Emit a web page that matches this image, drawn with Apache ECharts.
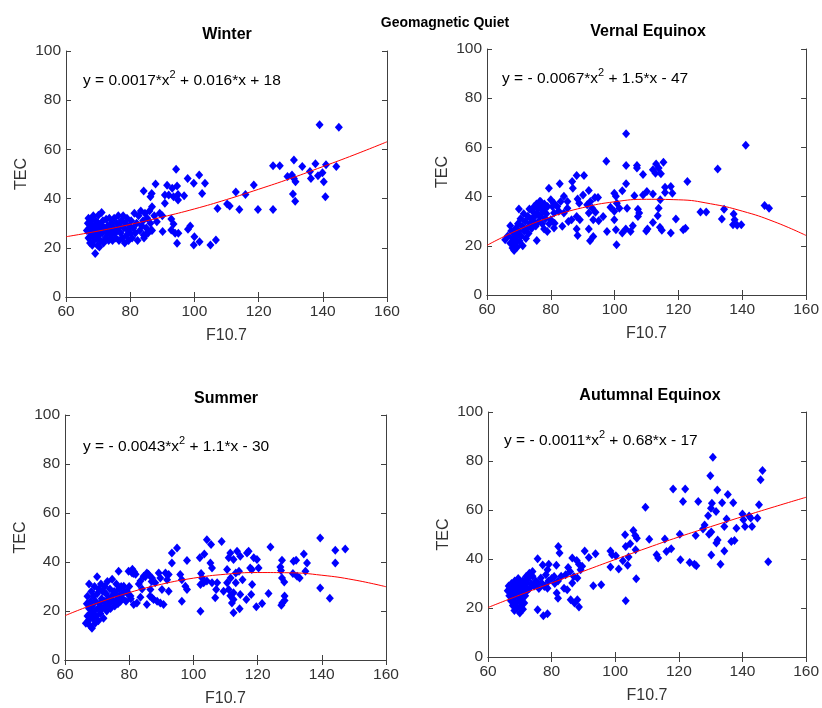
<!DOCTYPE html>
<html><head><meta charset="utf-8">
<script src="https://cdn.jsdelivr.net/npm/echarts@6/dist/echarts.min.js"></script>
<style>html,body{margin:0;padding:0;background:#fff}#c{width:822px;height:708px}</style>
</head><body><div id="c"></div>
<script>
const mainTitle = 'Geomagnetic Quiet';
const panelTitles = ['Winter', 'Vernal Equinox', 'Summer', 'Autumnal Equinox'];
const eqParts = [
  ['y = 0.0017*x', ' + 0.016*x + 18'],
  ['y = - 0.0067*x', ' + 1.5*x - 47'],
  ['y = - 0.0043*x', ' + 1.1*x - 30'],
  ['y = - 0.0011*x', ' + 0.68*x - 17']
];
const xName = 'F10.7';
const yName = 'TEC';

const winterPts = [
  [139,70],[145,69],[124.5,53.4],[126.6,53.4],[131,55.7],[133.6,53],[137.7,54.2],[141,53.8],[144.2,53],
  [129,49],[130.4,49.6],[131,48.2],[131.5,46.9],[136,51],[136.3,48.2],[138.5,49.3],[139.9,50.5],[140.3,46.9],
  [140.8,40.8],[130.7,41.9],[131.4,38.9],[118.5,45.5],[115.9,41.7],[112.9,42.7],[110.2,37.8],[111,37],
  [114,35.6],[119.8,35.6],[124.5,35.6],[107.2,36],[106.7,23.2],[105,21.1],[101.6,22.5],[99.8,21.1],[100,24.5],
  [97.9,48.2],[99.8,46.2],[101.5,49.6],[103.3,46.2],[102.4,42.1],[96.8,41.2],[94.3,51.9],[94.6,45.1],
  [91.5,45.4],[93.1,44.2],[90.8,41.5],[92,41.5],[93.5,40.8],[94.9,41.7],[94.9,39.4],[90.8,38.1],
  [87.9,45.9],[86.7,42.1],[84.2,43.1],[86.3,40.8],[86.8,36.7],[89.2,34],[88.3,30.6],[90.1,26.6],
  [92.8,31.7],[93.5,29.7],[92.8,27.2],[94,25.9],[95,25.9],[94.6,21.8],[98,27.5],[98.7,28.9],
  [86.6,27.2],[85.2,25.9],[84.2,25.2],
  [66.5,27],[66.8,30],[67,24],[67,32],[67.3,28],[67.5,22],[67.6,26],[67.8,29],[68,31],[68,25],[68.2,21],
  [68.4,27],[68.5,33],[68.7,23],[68.9,29],[69,26],[69.1,17.7],[69.3,31],[69.5,24],[69.6,28],[69.8,21],
  [70,30],[70.1,33.2],[70.2,25],[70.4,20.3],[70.5,27],[70.7,23],[71,29],[71.1,34.3],[71.3,26],[71.5,31],
  [71.7,22],[72,28],[72.3,24],[72.5,31.6],[72.8,26],[73,29],[73.3,23],[73.5,32],[73.8,27],[74,25],
  [74.2,30],[74.5,23],[74.8,28],[75,32],[75.3,26],[75.5,24],[75.8,30],[76,27],[76.3,33],[76.5,23],
  [76.8,29],[77,26],[77.3,31],[77.5,24],[77.8,33],[78,28],[78.3,22],[78.5,30],[78.8,25],[79,32],
  [79.3,27],[79.5,23],[79.8,29],[80,26],[80.3,31],[80.6,24],[81,28],[81.3,34],[81.6,26],[82,30],
  [82.3,23],[82.6,33],[83,27],[83.3,35],[83.6,29],[84,31],[84.3,24],[84.6,34],[85,28],[85.3,32],
  [85.6,26],[86,35],[86.3,30],[86.8,27],[87.5,33],[90,33]
];

const vernalPts = [
  [103.6,65.5],[141.1,60.9],[97.4,54.4],[132.3,51.2],[103.6,52.6],[107,52.6],[107,51.6],[108.9,49],
  [112,50.9],[113,53.3],[115.3,54],[113.8,51.6],[114.5,49.3],[112.8,49.5],[122.8,46.1],[103.6,45.2],
  [99.9,41.4],[100.4,40.1],[102.4,42.4],[106.2,40.3],[108.9,40.7],[110.1,42.1],[112,41.1],[115.8,43.8],
  [117.6,44.1],[115.8,41.7],[118.1,41.4],[100.7,37.3],[98.7,35.7],[101.5,35.3],[99.9,34],[103.9,35.3],
  [107.3,34.9],[107.7,33.3],[107.3,31.9],[114.3,38.7],[113.8,35.3],[113.5,32.2],[112,29.5],[99.9,30.6],
  [105.7,28.1],[103.5,26.8],[102.4,25.2],[100.4,26.5],[97.6,25.8],[100.6,20.4],[105,25.8],[110.3,26.8],
  [109.9,26],[114.2,27.5],[114.8,26.3],[117.6,25.2],[119.2,30.9],[121.5,26.5],[122.2,27.1],[126.9,33.7],
  [128.7,33.7],[133.6,30.9],[134.3,34.9],[137.3,32.9],[137.6,30.6],[137.1,28.6],[138.4,28.4],[139.7,28.6],
  [147,36.4],[148.4,35.3],
  [88.1,48.6],[90.4,48.6],[86.7,46.1],[82.8,45.2],[79.4,43.4],[86.9,43.4],[91.9,42.5],[90.1,40.7],
  [93.8,39.6],[94.8,39.6],[84.1,40.1],[88.4,39],[88.9,37.3],[85.2,38],[91.4,36.7],[92.4,38],[93,35.3],
  [91.9,33.3],[94,33.6],[93.3,30.6],[96.4,31.9],[95,30.2],[88.1,31.9],[89.1,30.6],[86.5,30.6],[85.5,29.9],
  [88.1,26.8],[88.4,24.2],[91.9,26.8],[93.3,23.8],[92.3,22.1],[83.6,27.9],[81.2,29.2],[81,27.2],
  [78.9,25.8],[77.9,26.8],[80,38.7],[81,37.3],[82,36],[83.1,38],[85.2,35.3],[84.1,33.3],[81,33.3],
  [80,30.6],[77.9,35.3],[76.8,38],
  [65.7,22.5],[66.5,24],[67.3,28.1],[67.3,21],[67.6,26],[68,19.1],[68,23],[68.3,25],[68.5,18.1],[68.7,21],
  [69,27],[69,22],[69.3,24],[69.5,19.5],[69.7,29],[70,35],[70,26],[70.2,22],[70.5,31],[70.7,24],
  [71,28],[71.2,20],[71.5,33],[71.7,26],[72,30],[72.2,23],[72.5,27],[72.8,32],[73,25],[73.3,35],
  [73.5,29],[73.8,31],[74,27],[74.3,34],[74.5,30],[74.8,36],[75,32],[75.3,28],[75.5,37],[75.6,22.2],
  [75.8,33],[76,35],[76.2,30],[76.5,38],[76.8,32],[77,36],[77.3,29],[77.6,34],[78,37],[78.3,31],
  [78.6,33],[79,36],[79.5,29],[80.5,36],[82.5,34]
];

const summerPts = [
  [139.5,49.8],[147.3,45.3],[144.2,44.8],[144.2,39.6],[139.5,29.4],[142.5,25.2],[124,46.1],[134.4,43.3],
  [135.4,39.6],[131.2,40.3],[132,40.7],[127.6,40.7],[127.1,38],[127.3,36.5],[131,35.3],[132.3,34.2],
  [133.1,33.5],[134.9,36.2],[127.6,33.5],[128.3,31.8],[123.4,27.1],[128.4,26.1],[128.4,24.3],[127.7,23.3],
  [127.4,22.3],[121.4,23.1],[119.6,21.7],[116.7,43.7],[117.2,44.4],[113.6,44.4],[111.5,43.7],[111,41.7],
  [112.5,41],[114.6,42.3],[118.8,41.7],[119.8,41],[117.7,37.6],[120.3,37.6],[118.2,36.9],[110.5,36.9],
  [113.2,35.5],[114.2,36.2],[111.6,33.5],[113.2,31.5],[115.3,32.8],[110.5,31.5],[109.4,28.1],[111,28.8],
  [112.5,27.4],[114.6,26.7],[112.5,24.7],[112,23.3],[111.5,26.2],[112.5,19.3],[114.4,20.9],[116.5,24.7],
  [118,26.7],[118.3,30.8],[106.8,25.4],[107.1,28.8],[105.8,31.5],[107.4,31.5],[104.2,32.2],[103.2,31.5],
  [102.2,30.8],[102.4,35.3],[102.7,33.5],[105.3,39.6],[105.8,37.6],[102,41.7],[103.4,43.3],[104.2,49.1],
  [105.5,47.1],[108.8,48.4],[102.2,19.9],[98,40.6],[95.9,34.9],[96.4,32.8],[97.5,30.1],[98,28.8],
  [96.4,24],[94.9,45.7],[93.3,43.7],[93.3,39.6],[92.3,34.9],[92.3,28.1],[89.7,33.5],[90.2,28.8],
  [89.7,23.3],[90.7,22.7],[88.7,24],[87.6,24.7],[87.1,25.4],[86.6,28.8],[85.5,22.7],[83.5,25.6],
  [82.4,23.3],[81.4,22.7],[80.9,35.5],[81.4,35.3],[79.8,36.2],[76.7,36.2],[78.3,30.1],[79.3,28.1],
  [80.4,26.1],[84.5,34.2],[83.5,32.2],[85.5,35.5],[87.1,33.5],[88.1,31.5],[89.2,35.5],[91.3,35.5],[91.8,32.8],
  [66.5,15],[66.8,23],[67,18],[67,26],[67.3,16],[67.5,21],[67.5,31],[67.8,14],[68,24],[68,19],[68.2,28],
  [68.4,13],[68.5,22],[68.7,17],[68.9,26],[69,20],[69.2,30],[69.4,15],[69.5,24],[69.7,18],[70,27],[70,34],
  [70.2,21],[70.4,16],[70.6,29],[70.8,23],[71,19],[71.2,31],[71.4,25],[71.6,21],[71.8,28],[72,17],[72.2,24],
  [72.4,30],[72.6,22],[72.8,27],[73,20],[73.2,32],[73.5,25],[73.7,23],[74,29],[74.2,21],[74.5,26],[74.7,33],
  [75,24],[75.3,28],[75.5,22],[75.8,27],[76,31],[76.3,25],[76.5,23],[76.8,29],[77,26],[77.3,24],[77.5,30],
  [77.8,27],[78,25],[78.5,28],[79,24],[79.5,27],[80,30],[80.5,25],[81,37],[81.5,36],[82,35],[83,31],
  [84,29],[85,34],[86,35],[86.5,26],[87,32]
];

const autumnPts = [
  [130.7,81.5],[129.9,74],[146.3,76.1],[145.7,72.3],[118.2,68.6],[122,68.6],[132.1,68.2],[135.4,66.3],
  [109.5,61.1],[121.3,63.5],[126.1,63.5],[133.6,63],[137.1,63],[130.4,62.8],[130.1,60.7],[131.7,59.4],
  [129.2,57.7],[145.2,62.1],[140,58.4],[142.1,57.6],[142.6,56.7],[140.3,56],[135,56.3],[144.7,56.7],
  [128.1,53.9],[134.3,53.3],[138.1,52.6],[140.8,53.3],[143,53.3],[127.6,52.2],[130.2,51],[129.5,50.1],
  [125.3,49.6],[132.2,47.8],[131.8,46.5],[136.5,47.1],[137.5,47.6],[134.3,43.3],[130.2,41.6],[133.1,37.9],
  [148.1,38.9],[120.3,50.1],[115.6,48.2],[110.7,48.1],[117.6,44.2],[116.1,43.1],[113,41.7],[113.5,40.4],
  [120.5,39.7],[123.4,38.6],[124.9,37.9],[125.5,37.2],[103.1,49.9],[105.7,51.6],[106.3,49.6],[106.8,48.5],
  [104.7,46.2],[103.3,45.1],[106.4,43.8],[98.5,43.3],[99,41.7],[100.2,41.3],[102.4,39.3],[104.2,40.8],
  [103.9,37.4],[101.1,35.9],[98.5,36.7],[106.6,31.9],[103.3,23],[93.1,29.1],[95.6,29.5],[93.8,42.1],
  [90.4,43.3],[91.7,40.6],[87.9,39.4],[88.6,37.9],[89.6,37],[89.1,35.6],[86.5,40.4],[85.2,36.5],[85.8,34.9],
  [84.4,33.6],[87,32.9],[88.1,32.2],[86.5,30.2],[83.9,28.1],[84.9,27.4],[86,23.4],[87.2,22],[88.1,23.4],
  [88.6,20.4],[82.1,45.1],[82.5,42.4],[81.5,37.4],[80.8,32.9],[81.6,26.1],[82,24],[75.6,40.1],[77.2,37.6],
  [79.1,37.9],[78.7,35.6],[78.2,33.6],[76.6,32.2],[75.6,30.2],[78.7,28.1],[77.7,28.8],[75.6,19.3],
  [77.4,16.8],[78.7,17.7],[72,32.9],[73,34.2],[74,34.9],
  [66.2,27],[66.5,29],[66.7,25],[67,28],[67.2,23],[67.4,30],[67.6,26],[67.8,21],[68,28],[68.1,24],
  [68.3,19],[68.4,31],[68.6,26],[68.8,22],[69,29],[69.1,20],[69.3,25],[69.5,32],[69.6,27],[69.8,23],
  [70,30],[70,18],[70.2,26],[70.4,21],[70.5,28],[70.7,24],[70.9,31],[71,19.5],[71.2,26],[71.4,22],
  [71.5,29],[71.7,25],[72,30],[72.3,27],[72.6,32],[73,28],[73.5,30],[74,33],[74.5,29],[75,31],
  [76,28],[77,30],[78,29],[79,31],[80,32],[81,30],[82,31],[83,33]
];

const fitX = [60,70,80,90,100,110,120,130,140,150,160];
const winterFit = [24.5,26.8,29.5,32.5,35.8,39.6,43.8,48.2,53,57.9,63.1];
const vernalFit = [20.2,26.6,31.7,35.5,37.9,38.9,38.7,37.1,34.1,29.8,24.2];
const summerFit = [18.1,23.2,27.5,30.9,33.4,35.0,35.7,35.6,34.6,32.7,29.9];
const autumnFit = [20.2,25.3,30.2,35,39.8,44.5,49,53.2,57.3,61.3,65.2];

const panelPts = [winterPts, vernalPts, summerPts, autumnPts];
const panelFit = [winterFit, vernalFit, summerFit, autumnFit];

const FONT = "'Liberation Sans', Arial, sans-serif";
const grids = [
  {left: 66, top: 51, width: 321, height: 246},
  {left: 487, top: 49, width: 321, height: 246},
  {left: 65, top: 415, width: 321, height: 246},
  {left: 488, top: 412, width: 320, height: 245}
];
const titlePos = [[222, 30], [643, 27], [221, 394], [645, 391]];
const eqPos = [[83, 69], [502, 67], [83, 435], [504, 429]];

const axisCol = '#404040';
const labCol = '#333';
const xAxes = [], yAxes = [], series = [], titles = [], graphics = [];
grids.forEach((g, i) => {
  const base = {min: 60, max: 160, interval: 20, gridIndex: i, splitLine: {show: false},
    axisLine: {lineStyle: {color: axisCol, width: 1}},
    axisTick: {inside: true, length: 5, lineStyle: {color: axisCol}}};
  xAxes.push(Object.assign({}, base, {position: 'bottom', name: xName, nameLocation: 'middle', nameGap: 31,
    nameTextStyle: {fontFamily: FONT, fontSize: 16, color: labCol},
    axisLabel: {fontFamily: FONT, fontSize: 15.5, color: labCol, margin: 7}}));
  xAxes.push(Object.assign({}, base, {position: 'top', axisLabel: {show: false}}));
  const ybase = {min: 0, max: 100, interval: 20, gridIndex: i, splitLine: {show: false},
    axisLine: {show: true, lineStyle: {color: axisCol, width: 1}},
    axisTick: {show: true, inside: true, length: 5, lineStyle: {color: axisCol}}};
  yAxes.push(Object.assign({}, ybase, {position: 'left', name: yName, nameLocation: 'middle', nameGap: 36,
    nameTextStyle: {fontFamily: FONT, fontSize: 16, color: labCol},
    axisLabel: {fontFamily: FONT, fontSize: 15.5, color: labCol, margin: 5}}));
  yAxes.push(Object.assign({}, ybase, {position: 'right', axisLabel: {show: false}}));
  series.push({type: 'scatter', xAxisIndex: 2 * i, yAxisIndex: 2 * i, symbol: 'diamond', symbolSize: [8, 9],
    itemStyle: {color: '#0000ff', opacity: 1}, data: panelPts[i], silent: true, z: 2});
  series.push({type: 'line', xAxisIndex: 2 * i, yAxisIndex: 2 * i, smooth: true, symbol: 'none',
    lineStyle: {color: '#ff0000', width: 1}, data: fitX.map((x, k) => [x, panelFit[i][k]]), silent: true, z: 3});
  titles.push({text: panelTitles[i], left: titlePos[i][0], top: titlePos[i][1], textAlign: 'center',
    textVerticalAlign: 'middle',
    textStyle: {fontFamily: FONT, fontSize: 16, fontWeight: 'bold', color: '#000'}});
  graphics.push({type: 'text', left: eqPos[i][0], top: eqPos[i][1], z: 10,
    style: {text: '{a|' + eqParts[i][0] + '}{s|2}{a|' + eqParts[i][1] + '}',
      rich: {a: {fontFamily: FONT, fontSize: 15.5, color: labCol, lineHeight: 20, verticalAlign: 'bottom'},
             s: {fontFamily: FONT, fontSize: 11, color: labCol, lineHeight: 20, verticalAlign: 'top', padding: [0, 0, 8, 0]}}}});
});
titles.push({text: mainTitle, left: 440, top: 18, textAlign: 'center', textVerticalAlign: 'middle',
  textStyle: {fontFamily: FONT, fontSize: 14, fontWeight: 'bold', color: '#000'}});

const chart = echarts.init(document.getElementById('c'), null, {renderer: 'canvas'});
chart.setOption({
  animation: false,
  backgroundColor: '#fff',
  title: titles,
  grid: grids,
  xAxis: xAxes,
  yAxis: yAxes,
  series: series,
  graphic: graphics
});
</script></body></html>
